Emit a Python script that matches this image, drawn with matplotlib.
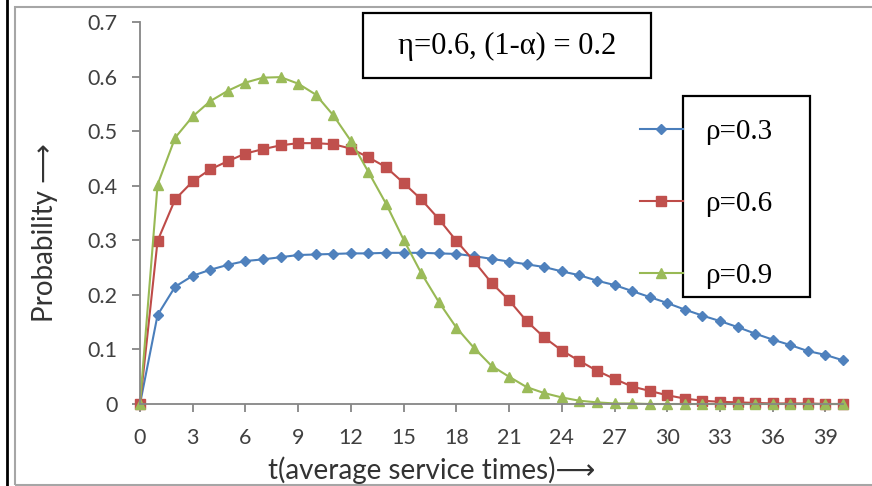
import matplotlib
matplotlib.use("Agg")
from matplotlib import pyplot as plt
from matplotlib.patches import Rectangle
from matplotlib.lines import Line2D

# data, t = 0..40
t = list(range(41))

rho_03 = [0, 0.163, 0.215, 0.235, 0.246, 0.255, 0.262, 0.265, 0.269, 0.273,
          0.274, 0.275, 0.276, 0.276, 0.277, 0.277, 0.277, 0.276, 0.275, 0.271,
          0.266, 0.261, 0.256, 0.251, 0.243, 0.236, 0.226, 0.218, 0.207, 0.196,
          0.185, 0.173, 0.162, 0.152, 0.141, 0.129, 0.118, 0.108, 0.097, 0.090,
          0.080]

rho_06 = [0, 0.299, 0.375, 0.408, 0.430, 0.445, 0.459, 0.467, 0.474, 0.478,
          0.478, 0.476, 0.468, 0.452, 0.434, 0.405, 0.375, 0.339, 0.299, 0.262,
          0.222, 0.190, 0.152, 0.122, 0.098, 0.079, 0.061, 0.046, 0.032, 0.024,
          0.016, 0.010, 0.006, 0.004, 0.003, 0.002, 0.001, 0.001, 0.001, 0.0,
          0.0]

rho_09 = [0, 0.402, 0.488, 0.527, 0.555, 0.574, 0.589, 0.598, 0.599, 0.587,
          0.567, 0.529, 0.482, 0.425, 0.367, 0.301, 0.240, 0.187, 0.140, 0.103,
          0.070, 0.050, 0.031, 0.020, 0.012, 0.006, 0.003, 0.001, 0.001, 0.0,
          0.0, 0.0, 0.0, 0.0, 0.0, 0.0, 0.0, 0.0, 0.0, 0.0,
          0.0]

labels = ["\u03c1=0.3", "\u03c1=0.6", "\u03c1=0.9"]
x_ticks = list(range(0, 40, 3))
y_ticks = [0, 0.1, 0.2, 0.3, 0.4, 0.5, 0.6, 0.7]
y_ticklabels = ["0", "0.1", "0.2", "0.3", "0.4", "0.5", "0.6", "0.7"]

W, H = 872, 486
fig = plt.figure(figsize=(W / 100, H / 100), dpi=100)

def fx(px):
    return px / W

def fy(py):
    return 1 - py / H

ax = fig.add_axes([fx(140), fy(404), fx(843) - fx(140), fy(22) - fy(404)])

l1, = ax.plot(t, rho_03, color="#4a7ebb", lw=1.5, marker="D", ms=5,
              mfc="#4f81bd", mec="#4f81bd", clip_on=False)
l2, = ax.plot(t, rho_06, color="#be4b48", lw=1.5, marker="s", ms=6.5,
              mfc="#c0504d", mec="#c0504d", clip_on=False)
l3, = ax.plot(t, rho_09, color="#98b954", lw=1.5, marker="^", ms=6.5,
              mfc="#9bbb59", mec="#9bbb59", clip_on=False)

ax.set_xlim(0, 40)
ax.set_ylim(0, 0.7)
for s in ["top", "right"]:
    ax.spines[s].set_visible(False)
for s in ["left", "bottom"]:
    ax.spines[s].set_color("#868686")
    ax.spines[s].set_linewidth(1.3)

tick_font = ["Lato", "DejaVu Sans"]
ax.set_xticks(x_ticks)
ax.set_yticks(y_ticks)
ax.set_yticklabels(y_ticklabels)
ax.tick_params(axis="both", direction="out", length=6, width=1.3,
               color="#868686", labelcolor="#404040", labelsize=15.5)
ax.tick_params(axis="x", pad=11)
ax.tick_params(axis="y", pad=10)
for lab in ax.get_xticklabels() + ax.get_yticklabels():
    lab.set_family(tick_font)

fig.text(fx(45), fy(233), "Probability \u27f6", rotation=90, ha="center",
         va="center", fontsize=20, color="#333333", family=tick_font)
fig.text(fx(432), fy(470), "t(average service times)\u27f6", ha="center",
         va="center", fontsize=20, color="#333333", family=tick_font)

# parameter box
fig.add_artist(Rectangle((fx(363), fy(78)), fx(651) - fx(363), fy(13) - fy(78),
                         transform=fig.transFigure, facecolor="white",
                         edgecolor="black", lw=1.6, zorder=4))
fig.text(fx(507), fy(46), "\u03b7=0.6, (1-\u03b1) = 0.2", ha="center",
         va="center", fontsize=22, family="Liberation Serif", zorder=6)

# legend box
fig.add_artist(Rectangle((fx(683), fy(297)), fx(810) - fx(683), fy(96) - fy(297),
                         transform=fig.transFigure, facecolor="white",
                         edgecolor="black", lw=1.6, zorder=4))
fs = 21
fig.legend([l1, l2, l3], labels, loc="upper left",
           bbox_to_anchor=(fx(640), fy(119)), bbox_transform=fig.transFigure,
           frameon=False, borderpad=0, borderaxespad=0,
           handlelength=43 / (fs * 1.389), handletextpad=22 / (fs * 1.389),
           labelspacing=1.56, prop={"family": "Liberation Serif", "size": fs})

# outer chart frame and page line
fig.add_artist(Rectangle((fx(15), fy(485)), fx(880) - fx(15), fy(7) - fy(485),
                         transform=fig.transFigure, fill=False,
                         edgecolor="#a6a6a6", lw=1.5))
fig.add_artist(Line2D([fx(7), fx(7)], [0, 1], transform=fig.transFigure,
                      color="black", lw=2))

fig.savefig("out.png", dpi=100)
